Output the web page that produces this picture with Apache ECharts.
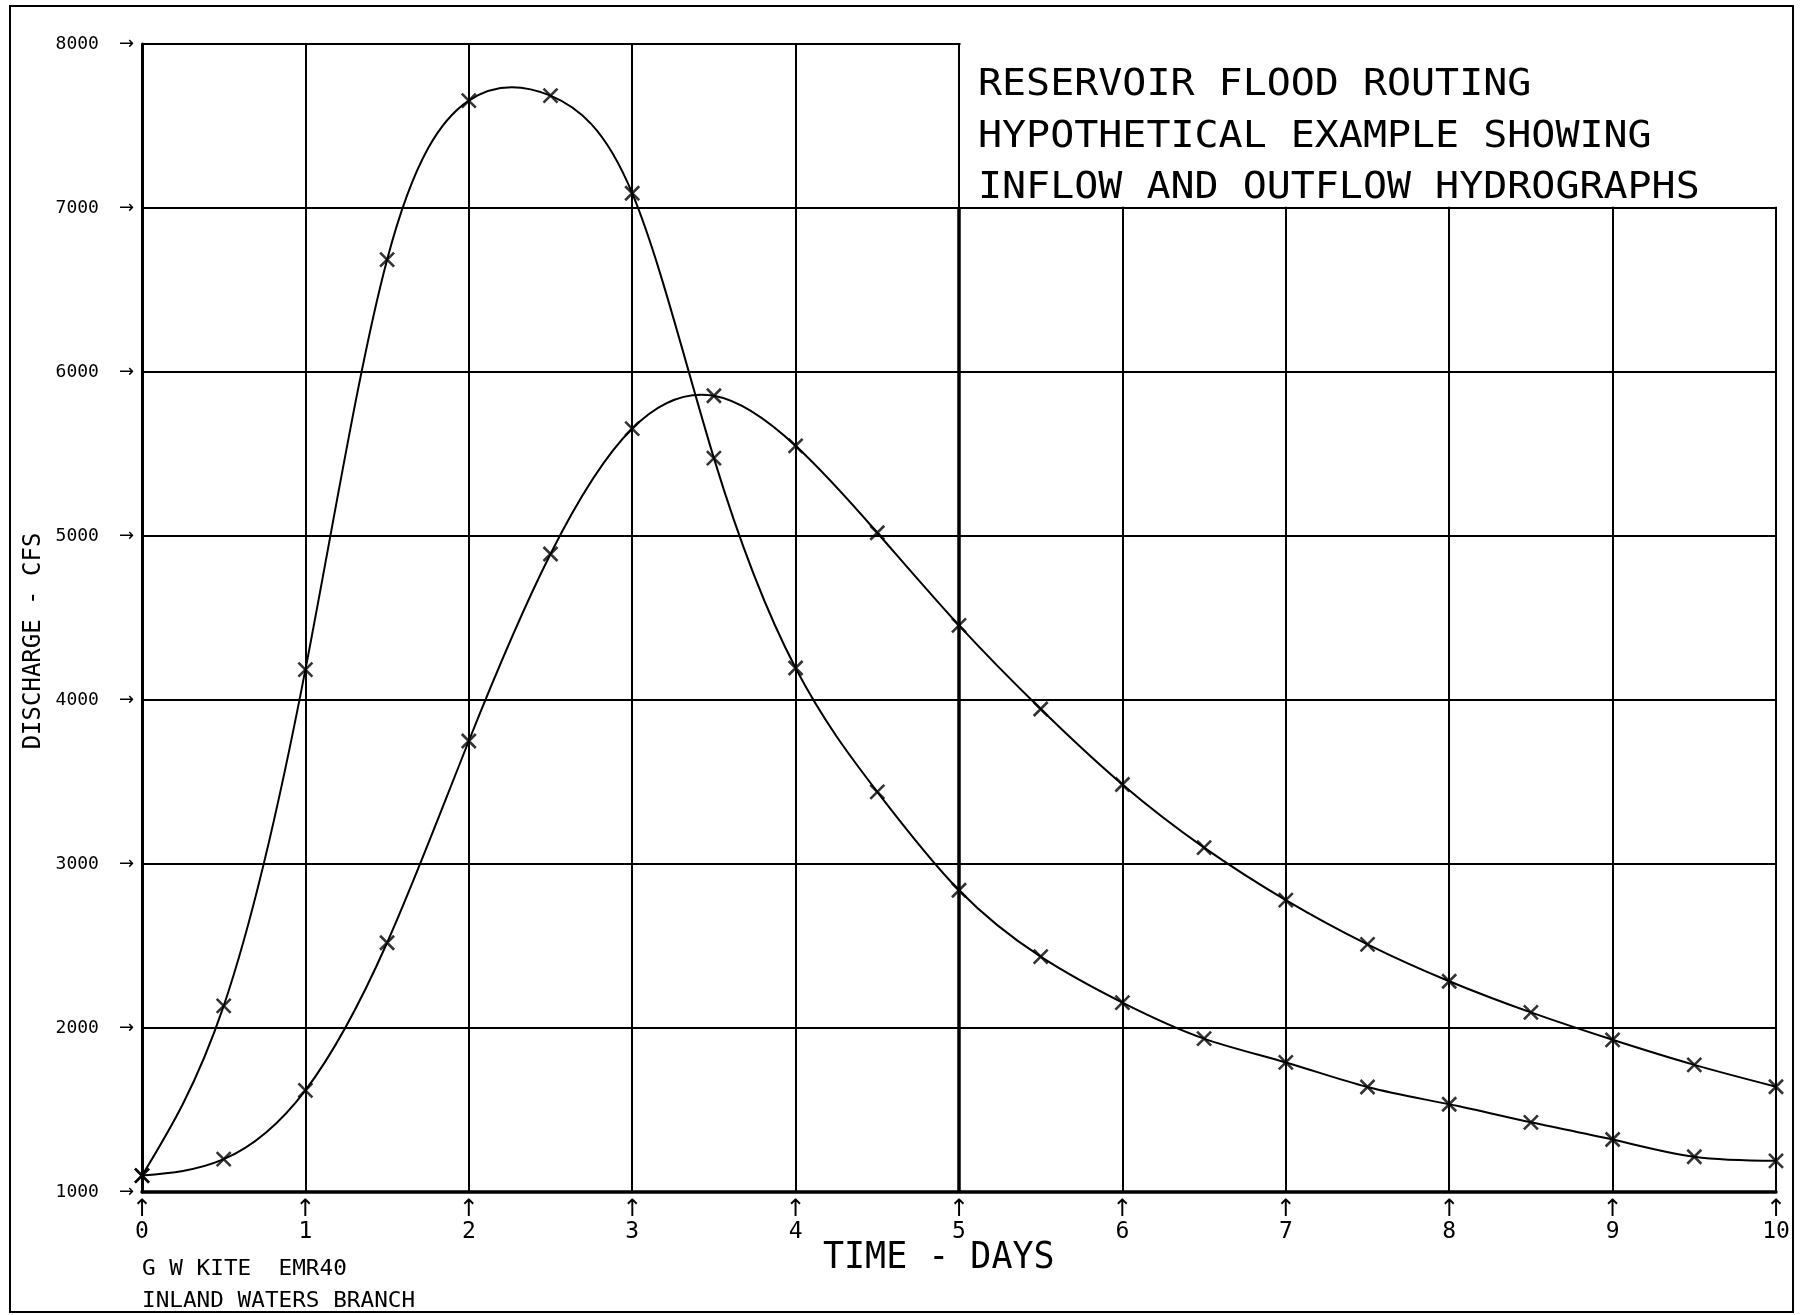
<!DOCTYPE html>
<html>
<head>
<meta charset="utf-8">
<title>Reservoir Flood Routing</title>
<script src="https://cdn.jsdelivr.net/npm/echarts@6/dist/echarts.min.js"></script>
<style>
  html, body { margin: 0; padding: 0; background: #fff; }
  #chart { width: 1807px; height: 1315px; }
</style>
</head>
<body>
<div id="chart"></div>
<script>
// Time since start of the flood, days
const days = [0, 0.5, 1, 1.5, 2, 2.5, 3, 3.5, 4, 4.5, 5, 5.5, 6, 6.5, 7, 7.5, 8, 8.5, 9, 9.5, 10];
// Inflow hydrograph into the reservoir, cfs
const inflowCfs = [1100, 2135, 4185, 6685, 7655, 7685, 7090, 5475, 4195, 3440, 2840, 2435, 2155, 1935, 1790, 1640, 1535, 1425, 1320, 1215, 1190];
// Routed outflow hydrograph below the dam, cfs
const outflowCfs = [1100, 1200, 1620, 2520, 3750, 4890, 5655, 5855, 5550, 5020, 4455, 3945, 3485, 3100, 2780, 2510, 2285, 2095, 1928, 1775, 1642];

const xTickLabels = ['0', '1', '2', '3', '4', '5', '6', '7', '8', '9', '10'];
const yTickLabels = ['1000', '2000', '3000', '4000', '5000', '6000', '7000', '8000'];

const titleLines = ['RESERVOIR FLOOD ROUTING', 'HYPOTHETICAL EXAMPLE SHOWING', 'INFLOW AND OUTFLOW HYDROGRAPHS'];
const creditLines = ['G W KITE  EMR40', 'INLAND WATERS BRANCH'];
const xAxisTitle = 'TIME - DAYS';
const yAxisTitle = 'DISCHARGE - CFS';

const MONO = '"DejaVu Sans Mono", "Liberation Mono", monospace';
const INK = '#000';

const chart = echarts.init(document.getElementById('chart'), null, { renderer: 'canvas' });

const crossSymbol = 'path://M0,0L10,10M10,0L0,10';

// End slopes of a natural cubic spline through (xs, ys); used to turn each
// interval into a cubic Bezier so the plotted curve is a smooth spline fit.
function splineSlopes(xs, ys) {
  const n = xs.length;
  const h = [];
  for (let i = 0; i < n - 1; i++) h.push(xs[i + 1] - xs[i]);
  const M = new Array(n).fill(0);
  if (n > 2) {
    const a = [], b = [], c = [], d = [];
    for (let i = 1; i < n - 1; i++) {
      a.push(h[i - 1]);
      b.push(2 * (h[i - 1] + h[i]));
      c.push(h[i]);
      d.push(6 * ((ys[i + 1] - ys[i]) / h[i] - (ys[i] - ys[i - 1]) / h[i - 1]));
    }
    const m = b.length;
    for (let i = 1; i < m; i++) {
      const w = a[i] / b[i - 1];
      b[i] -= w * c[i - 1];
      d[i] -= w * d[i - 1];
    }
    const sol = new Array(m);
    sol[m - 1] = d[m - 1] / b[m - 1];
    for (let i = m - 2; i >= 0; i--) sol[i] = (d[i] - c[i] * sol[i + 1]) / b[i];
    for (let i = 0; i < m; i++) M[i + 1] = sol[i];
  }
  const slopes = [];
  for (let i = 0; i < n - 1; i++) {
    slopes.push((ys[i + 1] - ys[i]) / h[i] - h[i] * (2 * M[i] + M[i + 1]) / 6);
  }
  const k = n - 2;
  slopes.push((ys[n - 1] - ys[k]) / h[k] + h[k] * (M[k] + 2 * M[n - 1]) / 6);
  return slopes;
}

// Smooth hydrograph curve, one Bezier piece per time step, placed through the axes
function curveSeries(name, values) {
  const slopes = splineSlopes(days, values);
  return {
    name: name,
    type: 'custom',
    coordinateSystem: 'cartesian2d',
    data: days.map((d, i) => [d, values[i]]),
    encode: { x: 0, y: 1 },
    silent: true,
    z: 3,
    renderItem: function (params, api) {
      const i = params.dataIndex;
      if (i >= days.length - 1) return null;
      const dt = days[i + 1] - days[i];
      const p0 = api.coord([days[i], values[i]]);
      const c1 = api.coord([days[i] + dt / 3, values[i] + slopes[i] * dt / 3]);
      const c2 = api.coord([days[i + 1] - dt / 3, values[i + 1] - slopes[i + 1] * dt / 3]);
      const p1 = api.coord([days[i + 1], values[i + 1]]);
      return {
        type: 'bezierCurve',
        shape: {
          x1: p0[0], y1: p0[1], x2: p1[0], y2: p1[1],
          cpx1: c1[0], cpy1: c1[1], cpx2: c2[0], cpy2: c2[1]
        },
        style: { stroke: INK, lineWidth: 2, fill: 'none' }
      };
    }
  };
}

// Computed ordinates marked with an "x"
function markerSeries(name, values) {
  return {
    name: name,
    type: 'scatter',
    data: days.map((d, i) => [d, values[i]]),
    symbol: crossSymbol,
    symbolSize: 14,
    itemStyle: { color: 'transparent', borderColor: INK, borderWidth: 2.6 },
    emphasis: { disabled: true },
    silent: true,
    z: 4
  };
}

chart.setOption({
  backgroundColor: '#fff',
  animation: false,
  grid: { left: 142, right: 31, top: 44, bottom: 123, containLabel: false, outerBoundsMode: 'none' },
  xAxis: {
    type: 'value',
    min: 0,
    max: 10,
    interval: 1,
    axisLine: { show: true, onZero: false, lineStyle: { color: INK, width: 3.5 } },
    axisTick: { show: false },
    splitLine: { show: true, lineStyle: { color: INK, width: 2 } },
    axisLabel: {
      margin: 9,
      showMinLabel: true,
      showMaxLabel: true,
      hideOverlap: false,
      formatter: (v) => '{a|\u2191}\n{v|' + xTickLabels[Math.round(v)] + '}',
      rich: {
        a: { fontFamily: '"DejaVu Sans", sans-serif', fontSize: 24, lineHeight: 17, color: INK, align: 'center' },
        v: { fontFamily: MONO, fontSize: 23, lineHeight: 28, color: INK, align: 'center' }
      }
    }
  },
  yAxis: {
    type: 'value',
    min: 1000,
    max: 8000,
    interval: 1000,
    axisLine: { show: true, onZero: false, lineStyle: { color: INK, width: 3 } },
    axisTick: { show: false },
    splitLine: { show: true, lineStyle: { color: INK, width: 2 } },
    axisLabel: {
      margin: 8,
      showMinLabel: true,
      showMaxLabel: true,
      hideOverlap: false,
      formatter: (v) => '{v|' + yTickLabels[Math.round((v - 1000) / 1000)] + '}{a|\u2192}',
      rich: {
        v: { fontFamily: MONO, fontSize: 18, color: INK },
        a: { fontFamily: '"DejaVu Sans", sans-serif', fontSize: 18, color: INK, padding: [0, 0, 0, 20] }
      }
    }
  },
  series: [
    curveSeries('Inflow', inflowCfs),
    curveSeries('Outflow', outflowCfs),
    markerSeries('Inflow points', inflowCfs),
    Object.assign(markerSeries('Outflow points', outflowCfs), {
      // heavier rule at day 5 below the title block
      markLine: {
        silent: true,
        symbol: 'none',
        label: { show: false },
        lineStyle: { color: INK, width: 3.5, type: 'solid' },
        data: [[{ coord: [5, 1000] }, { coord: [5, 7000] }]]
      }
    })
  ]
});

// The title block sits in the upper right corner of the grid, which is left open
const pTL = chart.convertToPixel({ gridIndex: 0 }, [5, 8000]);
const pBR = chart.convertToPixel({ gridIndex: 0 }, [10, 7000]);
const notchX1 = pTL[0] + 1.5;
const notchX2 = pBR[0] + 3;
const notchY1 = pTL[1] - 3;
const notchY2 = pBR[1] - 1.2;

function label(text, x, y, size, opts) {
  opts = opts || {};
  return {
    type: 'text',
    x: x,
    y: y,
    rotation: opts.rotation || 0,
    scaleX: opts.scaleX || 1,
    z: 101,
    silent: true,
    style: {
      text: text,
      font: size + 'px ' + MONO,
      fill: INK,
      align: opts.align || 'left',
      verticalAlign: 'middle',
      textAlign: opts.align || 'left',
      textVerticalAlign: 'middle'
    }
  };
}

const graphics = [
  {
    type: 'rect',
    z: 100,
    silent: true,
    shape: { x: notchX1, y: notchY1, width: notchX2 - notchX1, height: notchY2 - notchY1 },
    style: { fill: '#fff', stroke: null }
  },
  {
    type: 'rect',
    z: 100,
    silent: true,
    shape: { x: 10, y: 6, width: 1783, height: 1306 },
    style: { fill: 'none', stroke: INK, lineWidth: 2 }
  },
  label(titleLines[0], 978, 85, 37, { scaleX: 1.08 }),
  label(titleLines[1], 978, 137, 37, { scaleX: 1.08 }),
  label(titleLines[2], 978, 188, 37, { scaleX: 1.08 }),
  label(xAxisTitle, 823, 1258, 38, { scaleX: 0.92 }),
  label(yAxisTitle, 34, 641, 24, { rotation: Math.PI / 2, align: 'center' }),
  label(creditLines[0], 142, 1270, 21, { scaleX: 1.08 }),
  label(creditLines[1], 142, 1302, 21, { scaleX: 1.08 })
];

chart.setOption({ graphic: { elements: graphics } });
</script>
</body>
</html>
